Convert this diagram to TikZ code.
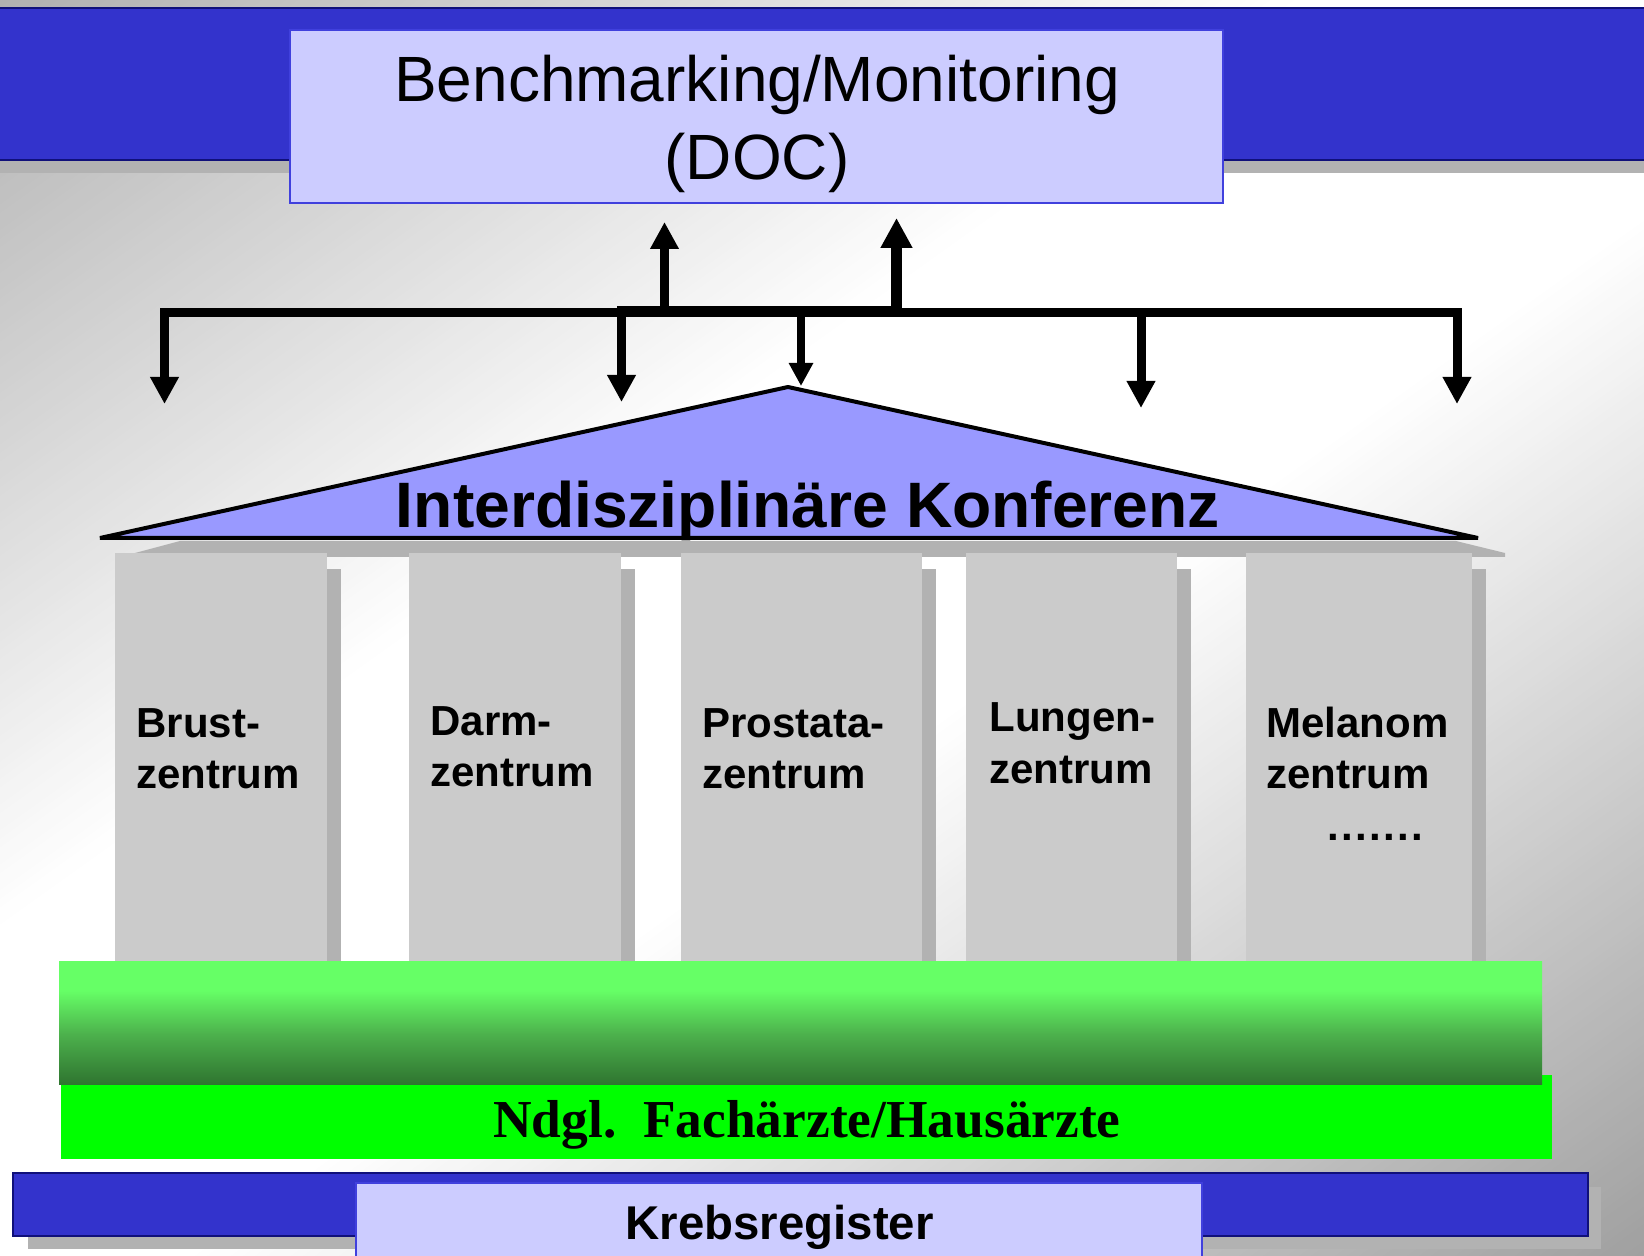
\documentclass[tikz,border=0pt]{standalone}
\usepackage{fontspec}
\setmainfont{Liberation Sans}
\newfontfamily\serifx{Liberation Serif}
\usetikzlibrary{arrows.meta}
\definecolor{bandblue}{HTML}{3333CC}
\definecolor{navy}{HTML}{10107A}
\definecolor{lav}{HTML}{CCCCFF}
\definecolor{lavborder}{HTML}{4040DD}
\definecolor{pillargray}{HTML}{CBCBCB}
\definecolor{shadowgray}{HTML}{B2B2B2}
\definecolor{trifill}{HTML}{9999FF}
\definecolor{brightgreen}{HTML}{00FF00}
\definecolor{lgreen}{HTML}{66FF66}
\definecolor{mgreen}{HTML}{4CB04C}
\definecolor{dgreen}{HTML}{2F7530}
\pgfdeclareverticalshading{greenshade}{100bp}{color(0bp)=(dgreen); color(25bp)=(dgreen); color(45bp)=(mgreen); color(63bp)=(lgreen); color(100bp)=(lgreen)}
\tikzset{
  band/.style={fill=bandblue, draw=navy, line width=1pt},
  lavbox/.style={fill=lav, draw=lavborder, line width=1pt, inner sep=0pt},
  pillar/.style={fill=pillargray, draw=none, inner sep=0pt},
  pshadow/.style={fill=shadowgray, draw=none},
  arr/.style={line width=4.5pt, -{Triangle[length=13.5pt,width=13.5pt]}},
  arrbig/.style={line width=5.5pt, -{Triangle[length=15pt,width=15pt]}},
  arrsmall/.style={line width=4pt, -{Triangle[length=11.5pt,width=11.5pt]}},
  ptext/.style={font=\fontsize{21pt}{25.5pt}\selectfont\bfseries, align=left, anchor=base west, inner sep=0pt},
}
\begin{document}
\begin{tikzpicture}[x=0.5pt,y=-0.5pt]
\useasboundingbox (0,0) rectangle (1644,1256);
% background: diagonal grey-white-grey gradient built from stripes
\begin{scope}
\clip (0,0) rectangle (1644,1256);
\foreach \s in {0,12,...,3408}{
  \pgfmathsetmacro\ga{min(1,(176+(\s+6)/1300*79)/255)}
  \pgfmathsetmacro\gb{min(1,(255-max(0,(\s+6-1950)/1452*95))/255)}
  \pgfmathsetmacro\g{min(\ga,\gb)}
  \definecolor{stripe}{gray}{\g}
  \fill[stripe] (\s-2,0) -- (\s+14,0) -- (\s+14-1758.4,1256) -- (\s-2-1758.4,1256) -- cycle;
}
\end{scope}
% top band
\fill[shadowgray] (0,160) rectangle (1644,173);
\draw[band] (-5,8) rectangle (1650,160);
\node[lavbox, minimum width=466.5pt, minimum height=86.5pt] (doc) at (756.5,116.5) {};
\node[font=\fontsize{32pt}{39pt}\selectfont, align=center, inner sep=0pt] (doctext) at (757,124) {Benchmarking/Monitoring\\(DOC)};
% roof shadow
\fill[shadowgray] (120,557) -- (180,541) -- (1456,541) -- (1505,553) -- (1505,557) -- cycle;
% pillars
\foreach \l/\r/\n in {115/327/p1, 409/621/p2, 681/922/p3, 966/1177/p4, 1246/1472/p5}{
  \fill[shadowgray] (\r,569) rectangle ({\r+14},961);
  \fill[pillargray] (\l,553) rectangle (\r,961);
}
\node[ptext] (l1) at (136,788) {Brust-\\zentrum};
\node[ptext] (l2) at (430,786) {Darm-\\zentrum};
\node[ptext] (l3) at (702,788) {Prostata-\\zentrum};
\node[ptext] (l4) at (989,783) {Lungen-\\zentrum};
\node[ptext] (l5) at (1266,788) {Melanom\\zentrum};
\node[font=\fontsize{21pt}{25.5pt}\selectfont\bfseries, anchor=base west, inner sep=0pt] (dots) at (1327,840) {.\kern1.2pt.\kern1.2pt.\kern1.2pt.\kern1.2pt.\kern1.2pt.\kern1.2pt.};
% triangle
\coordinate (apex) at (788,387);
\coordinate (tl) at (100,538);
\coordinate (tr) at (1478,538);
\draw[fill=trifill, line width=2pt, line join=bevel] (tl) -- (apex) -- (tr) -- cycle;
\node[font=\fontsize{32.1pt}{36pt}\selectfont\bfseries, anchor=base, inner sep=0pt] (ik) at (808,528) {Interdisziplinäre Konferenz};
% distribution bar
\coordinate (barL) at (160,312.5);
\coordinate (barR) at (1462,312.5);
\draw[line width=4.5pt] (barL) -- (barR);
\fill (617,306) rectangle (900,317);
\coordinate (u1) at (664.5,308);
\coordinate (u1t) at (664.5,222);
\coordinate (u2) at (896.5,308);
\coordinate (u2t) at (896.5,218);
\draw[arr] (u1) -- (u1t);
\draw[arrbig] (u2) -- (u2t);
\coordinate (d1) at (164.5,310);
\coordinate (d1t) at (164.5,404);
\coordinate (d2) at (621.5,310);
\coordinate (d2t) at (621.5,402);
\coordinate (d3) at (801,310);
\coordinate (d3t) at (801,386);
\coordinate (d4) at (1141,310);
\coordinate (d4t) at (1141,408);
\coordinate (d5) at (1457,310);
\coordinate (d5t) at (1457,404);
\draw[arr] (d1) -- (d1t);
\draw[arr] (d2) -- (d2t);
\draw[arrsmall] (d3) -- (d3t);
\draw[arr] (d4) -- (d4t);
\draw[arr] (d5) -- (d5t);
% green bars
\fill[brightgreen] (61,1075) rectangle (1552,1159);
\shade[shading=greenshade] (59,961) rectangle (1542,1084);
\node[font=\fontsize{26.7pt}{30pt}\selectfont\serifx\bfseries, anchor=base, inner sep=0pt] (ndgl) at (807,1137) {Ndgl.\ \ Fachärzte/Hausärzte};
% bottom band
\fill[shadowgray] (28,1187) rectangle (1601,1249);
\draw[band] (13,1173) rectangle (1588,1236);
\draw[lavbox] (356,1183) rectangle (1202,1262);
\node[font=\fontsize{23.7pt}{27pt}\selectfont\bfseries, anchor=base, inner sep=0pt] (kr) at (779.5,1239) {Krebsregister};
\end{tikzpicture}
\end{document}
